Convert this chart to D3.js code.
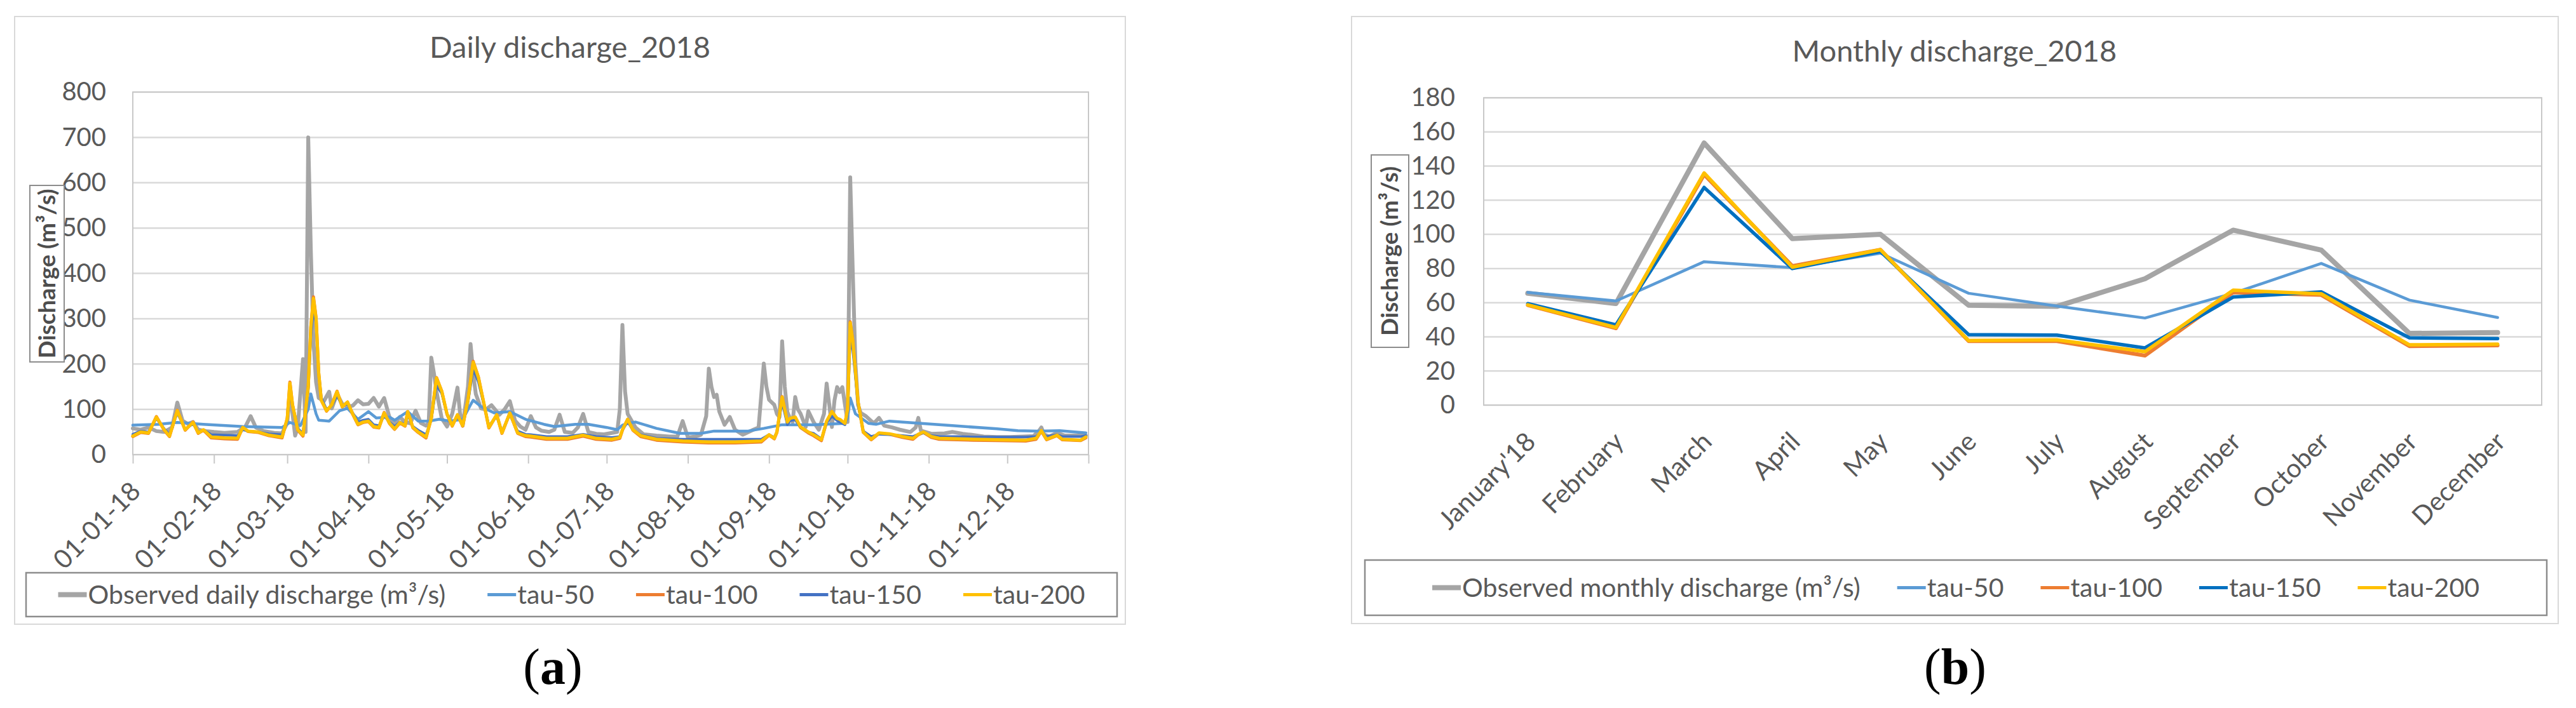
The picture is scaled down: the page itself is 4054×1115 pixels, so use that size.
<!DOCTYPE html>
<html lang="en">
<head>
<meta charset="UTF-8">
<title>Discharge 2018</title>
<style>
  body { margin: 0; background: #fff; }
  svg { display: block; }
  text { font-family: Lato, "Open Sans", sans-serif; fill: #595959; }
</style>
</head>
<body>
<script src="https://cdn.jsdelivr.net/npm/d3@7"></script>
<script>
// ---- daily data: [day of year, m3/s] ----
var observedDaily = [[0,58],[3,55],[6,60],[9,52],[12,50],[15,60],[17,115],[19,75],[21,68],[23,72],[25,55],[28,52],[31,50],[35,48],[40,50],[43,62],[45,85],[47,60],[50,52],[54,48],[57,47],[59,70],[60,140],[61,90],[62,42],[63,60],[65,211],[66,50],[67,700],[68,450],[69,250],[70,160],[71,125],[73,118],[75,139],[76,102],[78,134],[80,112],[82,106],[84,108],[86,120],[88,111],[90,112],[92,125],[94,106],[96,125],[98,83],[100,69],[102,83],[104,72],[106,69],[108,97],[110,70],[112,64],[113,70],[114,214],[115,180],[116,139],[118,80],[120,62],[122,90],[124,148],[125,90],[126,64],[128,150],[129,244],[130,180],[131,134],[133,102],[135,100],[137,109],[139,95],[140,88],[142,100],[144,118],[146,75],[148,62],[150,55],[152,85],[154,60],[156,53],[159,50],[161,55],[163,88],[165,50],[168,48],[170,60],[172,90],[174,50],[177,46],[180,45],[183,48],[185,50],[186,100],[187,286],[188,140],[189,90],[190,80],[192,60],[195,45],[200,42],[205,40],[208,40],[210,74],[212,38],[215,40],[217,44],[219,85],[220,190],[221,150],[222,127],[223,132],[224,95],[226,66],[228,83],[230,55],[233,44],[237,55],[239,60],[240,130],[241,201],[242,150],[243,121],[245,110],[246,90],[247,83],[248,250],[249,150],[250,94],[251,80],[252,72],[253,127],[254,100],[255,91],[257,61],[258,96],[260,72],[262,55],[264,90],[265,157],[266,110],[267,61],[268,120],[269,149],[270,138],[271,149],[272,110],[273,72],[274,612],[275,400],[276,200],[277,110],[278,92],[280,85],[283,69],[285,81],[287,64],[290,60],[293,55],[297,50],[299,60],[300,81],[301,53],[305,46],[310,47],[313,50],[317,46],[320,44],[325,40],[330,39],[335,39],[340,40],[344,41],[346,52],[347,60],[348,45],[350,40],[353,48],[356,42],[360,42],[364,42]];

var tau50Daily = [[0,65],[10,67],[17,71],[27,67],[42,62],[57,60],[60,71],[64,64],[67,100],[68,134],[70,90],[71,76],[75,74],[79,97],[82,102],[86,78],[90,95],[93,81],[98,83],[100,76],[105,95],[109,74],[113,74],[117,78],[121,74],[126,78],[129,110],[130,120],[133,106],[138,92],[144,95],[150,78],[157,67],[161,62],[169,67],[174,67],[181,60],[185,55],[187,65],[189,69],[192,72],[200,58],[209,47],[217,47],[222,52],[235,52],[241,58],[248,66],[260,66],[272,69],[273,80],[274,125],[276,90],[281,69],[284,67],[289,74],[301,69],[313,64],[330,57],[338,53],[346,52],[354,53],[364,48]];

var tau100Daily = [[0,40],[3,49],[6,47],[9,84],[12,54],[14,40],[17,98],[20,54],[23,72],[25,47],[27,54],[30,37],[35,35],[40,34],[42,60],[44,51],[48,49],[52,42],[57,37],[59,80],[60,160],[61,110],[63,54],[65,41],[67,150],[68,282],[69,348],[70,302],[71,180],[72,120],[74,96],[76,110],[78,140],[80,105],[82,116],[84,89],[86,66],[88,71],[90,73],[92,61],[94,59],[96,93],[98,69],[100,56],[102,70],[104,63],[105,95],[107,59],[109,49],[112,37],[114,80],[116,170],[118,140],[120,89],[122,63],[124,88],[126,63],[128,120],[130,206],[132,171],[134,115],[136,59],[139,88],[141,47],[144,92],[147,47],[150,40],[152,39],[158,34],[166,34],[172,41],[177,34],[183,32],[186,36],[187,54],[189,78],[191,54],[194,40],[200,32],[210,28],[220,26],[230,26],[240,28],[243,43],[245,35],[246,49],[248,128],[250,71],[251,79],[253,82],[255,60],[258,48],[260,42],[263,31],[265,73],[267,95],[269,79],[270,77],[272,68],[273,100],[274,293],[275,251],[277,116],[279,49],[282,33],[285,47],[289,45],[294,38],[298,34],[300,44],[302,49],[305,38],[308,34],[315,33],[321,32],[330,31],[341,30],[345,34],[347,52],[349,33],[353,42],[355,33],[362,31],[364,37]];

var tau150Daily = [[0,45],[3,52],[6,50],[9,80],[12,57],[14,45],[17,92],[20,57],[23,68],[25,50],[27,55],[30,44],[35,43],[40,42],[42,55],[44,52],[48,50],[52,46],[57,44],[59,75],[60,150],[61,110],[63,58],[65,47],[67,140],[68,260],[69,320],[70,290],[71,180],[72,125],[74,100],[76,108],[78,130],[80,108],[82,112],[84,92],[86,72],[88,76],[90,78],[92,66],[94,64],[96,86],[98,72],[100,62],[102,72],[104,66],[105,88],[107,62],[109,54],[112,44],[114,78],[116,153],[118,135],[120,90],[122,66],[124,84],[126,66],[128,115],[130,188],[132,160],[134,112],[136,64],[139,84],[141,52],[144,88],[147,52],[150,45],[152,44],[158,40],[166,40],[172,45],[177,40],[183,38],[186,40],[187,55],[189,72],[191,55],[194,44],[200,36],[210,34],[220,34],[230,34],[240,34],[243,44],[245,38],[246,50],[248,116],[250,66],[251,75],[253,77],[255,60],[258,50],[260,47],[263,35],[265,70],[267,85],[269,75],[270,72],[272,66],[273,95],[274,255],[275,230],[277,110],[279,52],[282,40],[285,45],[289,44],[294,42],[298,40],[300,45],[302,48],[305,42],[308,40],[315,40],[321,39],[330,39],[341,39],[345,40],[347,50],[349,40],[353,44],[355,40],[362,40],[364,42]];

var tau200Daily = [[0,41],[3,50],[6,48],[9,83],[12,55],[14,41],[17,97],[20,55],[23,71],[25,48],[27,55],[30,39],[35,37],[40,36],[42,60],[44,52],[48,50],[52,43],[57,39],[59,80],[60,158],[61,110],[63,55],[65,43],[67,150],[68,280],[69,345],[70,300],[71,180],[72,120],[74,97],[76,110],[78,139],[80,106],[82,116],[84,90],[86,67],[88,72],[90,74],[92,62],[94,60],[96,92],[98,70],[100,57],[102,71],[104,64],[105,95],[107,60],[109,50],[112,39],[114,80],[116,169],[118,140],[120,90],[122,64],[124,88],[126,64],[128,120],[130,204],[132,170],[134,116],[136,60],[139,88],[141,48],[144,92],[147,48],[150,42],[152,41],[158,36],[166,36],[172,43],[177,36],[183,34],[186,38],[187,55],[189,78],[191,55],[194,42],[200,34],[210,30],[220,28],[230,28],[240,30],[243,44],[245,36],[246,50],[248,127],[250,72],[251,80],[253,83],[255,61],[258,50],[260,44],[263,33],[265,74],[267,95],[269,80],[270,78],[272,69],[273,100],[274,291],[275,250],[277,116],[279,50],[282,34],[285,48],[289,46],[294,40],[298,36],[300,45],[302,50],[305,40],[308,36],[315,35],[321,34],[330,33],[341,32],[345,36],[347,53],[349,34],[353,43],[355,34],[362,32],[364,39]];

var dailyTicks = [0, 100, 200, 300, 400, 500, 600, 700, 800];

// ---- monthly data ----
var months = ["January'18", "February", "March", "April", "May", "June", "July", "August", "September", "October", "November", "December"];
var observedMonthly = [65.5, 59.5, 153.5, 97.5, 100, 58.5, 57.8, 74, 102.5, 90.8, 42, 42.5];
var tau50Monthly = [66, 61, 84, 80.5, 89, 65.5, 58, 51, 65.5, 83, 61.5, 51.3];
var tau100Monthly = [58.5, 45, 135, 81.5, 91, 37.5, 37.5, 29, 66, 64.5, 34.5, 35];
var tau150Monthly = [59.4, 47, 127.5, 80, 90, 41.3, 41, 33.5, 63.3, 66.3, 39.4, 39];
var tau200Monthly = [58.7, 45.5, 136, 80.8, 91, 37.8, 38.2, 31.3, 67.3, 65.2, 35.3, 35.7];
var monthlyTicks = [0, 20, 40, 60, 80, 100, 120, 140, 160, 180];

var svg = d3.select("body").append("svg").attr("width", 4054).attr("height", 1115);

function frame(x, y, w, h) {
	svg.append("rect").attr("x", x).attr("y", y).attr("width", w).attr("height", h)
		.attr("fill", "#fff").attr("stroke", "#d9d9d9").attr("stroke-width", 2);
}

function title(txt, x, y) {
	svg.append("text").attr("x", x).attr("y", y).attr("text-anchor", "middle")
		.style("font-size", "47px").text(txt);
}

function yTitle(box) {
	svg.append("rect").attr("x", box.x).attr("y", box.y).attr("width", box.w).attr("height", box.h)
		.attr("fill", "#fff").attr("stroke", "#8c8c8c").attr("stroke-width", 2);
	svg.append("text")
		.attr("transform", "translate(" + (box.x + box.w / 2) + "," + (box.y + box.h / 2) + ") rotate(-90)")
		.attr("text-anchor", "middle").attr("dy", "0.35em")
		.style("font-size", "37px").style("font-weight", "bold").style("fill", "#4d4d4d")
		.text("Discharge (m³/s)");
}

function grid(y, ticks, x0, x1) {
	svg.append("g").selectAll("line").data(ticks).enter().append("line")
		.attr("x1", x0).attr("x2", x1)
		.attr("y1", function(d) { return y(d); }).attr("y2", function(d) { return y(d); })
		.attr("stroke", "#d9d9d9").attr("stroke-width", 2.5);
	svg.append("rect").attr("x", x0).attr("y", y.range()[1]).attr("width", x1 - x0)
		.attr("height", y.range()[0] - y.range()[1])
		.attr("fill", "none").attr("stroke", "#c8c8c8").attr("stroke-width", 2);
}

function yLabels(y, ticks, xRight) {
	var ax = d3.axisLeft(y).tickValues(ticks).tickSize(0).tickPadding(0);
	var g = svg.append("g").attr("transform", "translate(" + xRight + ",0)").call(ax);
	g.select(".domain").remove();
	g.selectAll("text").style("font-size", "40px").style("font-family", "Lato, sans-serif").attr("fill", "#595959");
}

function rotateLabels(g) {
	g.selectAll(".tick text")
		.attr("x", 0).attr("y", 0).attr("dy", "0.35em")
		.attr("text-anchor", "end")
		.attr("transform", "translate(4,50) rotate(-45)")
		.style("font-size", "41px").style("font-family", "Lato, sans-serif").attr("fill", "#595959");
}

function legend(items, box, gap) {
	svg.append("rect").attr("x", box.x).attr("y", box.y).attr("width", box.w).attr("height", box.h)
		.attr("fill", "#fff").attr("stroke", "#8c8c8c").attr("stroke-width", 2.5);
	var entries = svg.append("g").selectAll("g").data(items).enter().append("g");
	entries.append("line").attr("x1", 0).attr("x2", 45).attr("y1", 0).attr("y2", 0)
		.attr("stroke", function(d) { return d.color; })
		.attr("stroke-width", function(d) { return d.sw; });
	entries.append("text").attr("x", 47).attr("dy", "0.35em").style("font-size", "41px")
		.text(function(d) { return d.name; });
	var widths = [];
	entries.select("text").each(function() { widths.push(this.getComputedTextLength()); });
	var total = d3.sum(widths) + items.length * 47 + gap * (items.length - 1);
	var x = box.x + box.w / 2 - total / 2;
	entries.attr("transform", function(d, i) {
		var t = "translate(" + x + "," + (box.y + box.h / 2) + ")";
		x += 47 + widths[i] + gap;
		return t;
	});
}

function panelLabel(letter, x, y) {
	var t = svg.append("text").attr("x", x).attr("y", y).attr("text-anchor", "middle")
		.style("font-family", "'Liberation Serif', 'DejaVu Serif', serif").style("font-size", "80px").style("fill", "#000");
	t.append("tspan").text("(");
	t.append("tspan").style("font-weight", "bold").text(letter);
	t.append("tspan").text(")");
}

// ================= (a) daily =================
frame(23, 26, 1748, 957);
title("Daily discharge_2018", 897, 91);

var start = new Date(2018, 0, 1);
var xD = d3.scaleTime().domain([start, new Date(2019, 0, 1)]).range([209, 1713]);
var yD = d3.scaleLinear().domain([0, 800]).range([716, 145]);
function dayDate(d) { return d3.timeDay.offset(start, d); }

grid(yD, dailyTicks, 209, 1713);
yLabels(yD, dailyTicks, 167);
yTitle({x: 47, y: 292, w: 54, h: 278});

var fmt = d3.timeFormat("%d-%m-%y");
var xAxisD = d3.axisBottom(xD).ticks(d3.timeMonth.every(1)).tickSize(14)
	.tickFormat(function(d) { return d.getFullYear() === 2018 ? fmt(d) : ""; });
var gxD = svg.append("g").attr("transform", "translate(0,716)").call(xAxisD);
gxD.select(".domain").remove();
gxD.selectAll(".tick line").attr("stroke", "#c8c8c8").attr("stroke-width", 2);
rotateLabels(gxD);

var lineD = d3.line().x(function(d) { return xD(dayDate(d[0])); }).y(function(d) { return yD(d[1]); });
var dailySeries = [
	{data: observedDaily, color: "#a5a5a5", w: 6},
	{data: tau50Daily, color: "#5b9bd5", w: 4.5},
	{data: tau100Daily, color: "#ed7d31", w: 5},
	{data: tau150Daily, color: "#4472c4", w: 4},
	{data: tau200Daily, color: "#ffc000", w: 5}
];
svg.append("g").selectAll("path").data(dailySeries).enter().append("path")
	.attr("d", function(s) { return lineD(s.data); })
	.attr("fill", "none").attr("stroke", function(s) { return s.color; })
	.attr("stroke-width", function(s) { return s.w; })
	.attr("stroke-linejoin", "round").attr("stroke-linecap", "round");

legend([
	{name: "Observed daily discharge (m³/s)", color: "#a5a5a5", sw: 8},
	{name: "tau-50", color: "#5b9bd5", sw: 5},
	{name: "tau-100", color: "#ed7d31", sw: 5},
	{name: "tau-150", color: "#4472c4", sw: 5},
	{name: "tau-200", color: "#ffc000", sw: 5}
], {x: 41, y: 902, w: 1717, h: 69}, 66);

panelLabel("a", 870, 1077);

// ================= (b) monthly =================
frame(2127, 26, 1899, 956);
title("Monthly discharge_2018", 3076, 97);

var xM = d3.scalePoint().domain(months).range([2335, 4000]).padding(0.5);
var yM = d3.scaleLinear().domain([0, 180]).range([638, 154]);

grid(yM, monthlyTicks, 2335, 4000);
yLabels(yM, monthlyTicks, 2290);
yTitle({x: 2158, y: 244, w: 59, h: 303});

var gxM = svg.append("g").attr("transform", "translate(0,638)").call(d3.axisBottom(xM).tickSize(0));
gxM.select(".domain").remove();
rotateLabels(gxM);

var lineM = d3.line().x(function(d, i) { return xM(months[i]); }).y(function(d) { return yM(d); });
var monthlySeries = [
	{data: observedMonthly, color: "#a5a5a5", w: 8},
	{data: tau50Monthly, color: "#5b9bd5", w: 4.5},
	{data: tau100Monthly, color: "#ed7d31", w: 6},
	{data: tau150Monthly, color: "#0070c0", w: 5.5},
	{data: tau200Monthly, color: "#ffc000", w: 5.5}
];
svg.append("g").selectAll("path").data(monthlySeries).enter().append("path")
	.attr("d", function(s) { return lineM(s.data); })
	.attr("fill", "none").attr("stroke", function(s) { return s.color; })
	.attr("stroke-width", function(s) { return s.w; })
	.attr("stroke-linejoin", "round").attr("stroke-linecap", "round");

legend([
	{name: "Observed monthly discharge (m³/s)", color: "#a5a5a5", sw: 8},
	{name: "tau-50", color: "#5b9bd5", sw: 5},
	{name: "tau-100", color: "#ed7d31", sw: 5},
	{name: "tau-150", color: "#0070c0", sw: 5},
	{name: "tau-200", color: "#ffc000", sw: 5}
], {x: 2148, y: 882, w: 1860, h: 87}, 58);

panelLabel("b", 3077, 1077);
</script>
</body>
</html>
